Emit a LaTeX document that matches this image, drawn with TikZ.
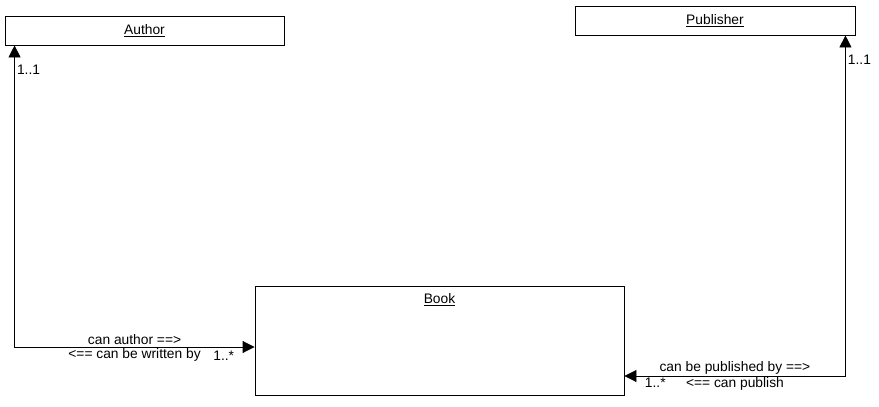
\documentclass[tikz,border=0pt]{standalone}
\usepackage{fontspec}
\setmainfont{Liberation Sans}
\usetikzlibrary{arrows.meta}

\begin{document}
\begin{tikzpicture}[x=1pt, y=-1pt,
  every node/.style={font=\fontsize{13.8}{16}\selectfont, inner sep=2pt},
  classbox/.style={draw, line width=0.9pt, inner sep=0pt},
  assoc/.style={line width=0.9pt, {Triangle[length=12pt,width=12pt]}-{Triangle[length=12pt,width=12pt]}}]
\useasboundingbox (0,0) rectangle (879,407);
% classes
\node[classbox, minimum width=279, minimum height=29] (author) at (144.5,30.5) {\underline{Author}};
\node[classbox, minimum width=280, minimum height=29] (publisher) at (715,20.5) {\underline{Publisher}};
\node[classbox, minimum width=369, minimum height=109,
  label={[anchor=north, inner sep=0pt, yshift=-8pt]north:\underline{Book}}] (book) at (439.5,340.5) {};
% associations
\draw[assoc] ([xshift=10pt]author.south west) |- ([yshift=-6.5pt]book.west)
  node[pos=0.75, above, inner sep=1.5pt] (writes) {can author ==>}
  node[pos=0.75, below, inner sep=1pt] (writtenby) {<== can be written by}
  node[pos=1, anchor=north east, xshift=-18pt, yshift=-2pt] (bookmany) {1..*}
  node[pos=0, anchor=north west, yshift=-17pt] (authorone) {1..1};
\draw[assoc] ([xshift=-10pt]publisher.south east) |- ([yshift=-35.5pt]book.east)
  node[pos=0.75, above, inner sep=1.5pt] (publishedby) {can be published by ==>}
  node[pos=0.75, below, inner sep=1pt] (publishes) {<== can publish}
  node[pos=1, anchor=north west, xshift=18pt, yshift=0pt] (bookmanyb) {1..*}
  node[pos=0, anchor=north west, yshift=-17pt] (publisherone) {1..1};
\end{tikzpicture}
\end{document}
